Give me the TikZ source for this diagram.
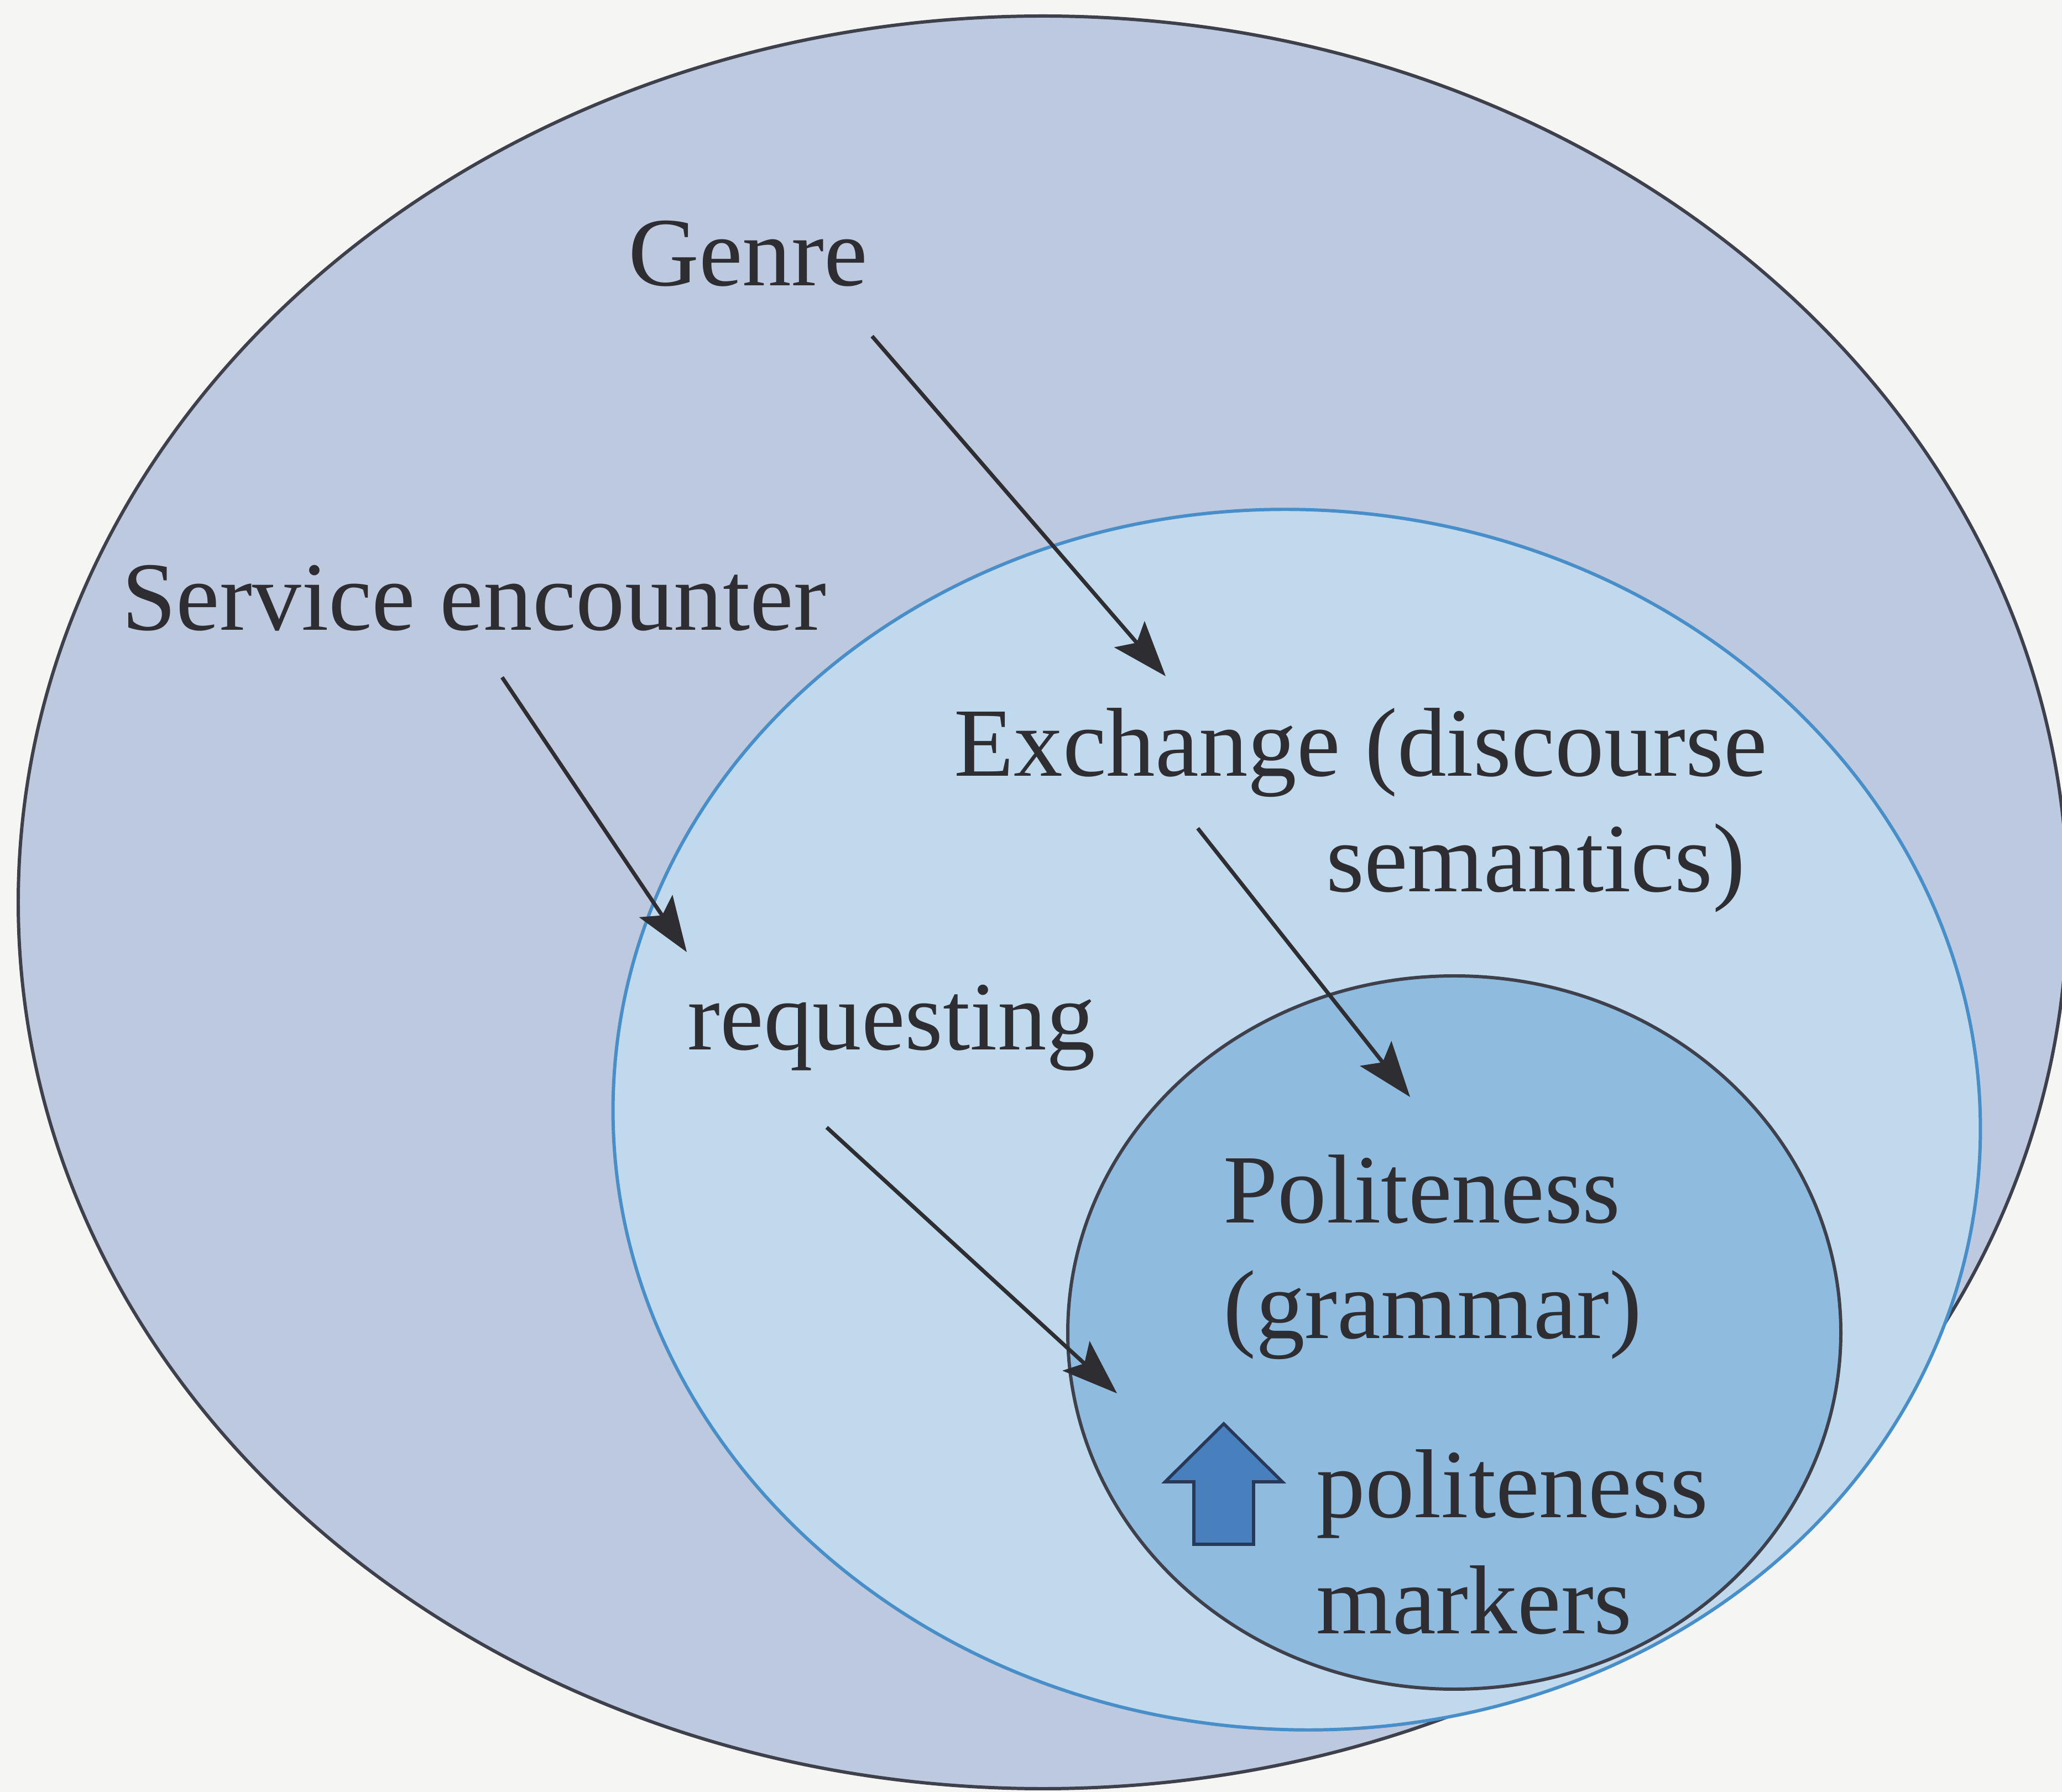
\documentclass[tikz,border=0pt]{standalone}
\usepackage{fontspec}
\setmainfont{Liberation Serif}
\usetikzlibrary{arrows.meta}
\definecolor{paper}{RGB}{245,245,243}
\definecolor{genrefill}{RGB}{188,201,222}
\definecolor{exchfill}{RGB}{193,217,236}
\definecolor{politefill}{RGB}{143,187,223}
\definecolor{ringdark}{RGB}{62,64,76}
\definecolor{ringblue}{RGB}{72,142,200}
\definecolor{markerblue}{RGB}{72,128,190}
\definecolor{markerline}{RGB}{40,56,88}
\definecolor{inkgray}{RGB}{45,45,50}

\begin{document}
\begin{tikzpicture}[
    lbl/.style={inner sep=0pt, text=inkgray, font=\fontsize{25.2}{29.8}\selectfont},
    link/.style={draw=inkgray, line width=1pt, -{Stealth[length=0.5cm,width=0.36cm,inset=0.1cm]}},
    ring/.style={line width=0.85pt},
  ]
  \clip (0,0) rectangle (18.645,-16.205); % page frame
  \fill[paper] (0,0) rectangle (18.645,-16.205);

  % the three levels, outside in
  \draw[ring, fill=genrefill, draw=ringdark] (9.43,-8.16) ellipse [x radius=9.265, y radius=8.015];
  \draw[ring, fill=exchfill, draw=ringblue] (11.725,-10.125) ellipse [x radius=6.185, y radius=5.515, rotate=-4];
  \draw[ring, fill=politefill, draw=ringdark] (13.15,-12.05) ellipse [x radius=3.495, y radius=3.225];

  % labels (two-line ones sit on the baseline of their last line)
  \node[lbl, anchor=base west] (genre) at (5.675,-2.585) {Genre};
  \node[lbl, anchor=base west] (service) at (1.095,-5.70) {Service encounter};
  \node[lbl, anchor=base west, align=left] (exchange) at (8.62,-8.065) {Exchange (discourse\\\hspace*{3.365cm}semantics)};
  \node[lbl, anchor=base west] (request) at (6.21,-9.495) {requesting};
  \node[lbl, anchor=base west, align=left] (polite) at (11.055,-12.105) {Politeness\\(grammar)};
  \node[lbl, anchor=base west, align=left] (markers) at (11.895,-14.77) {politeness\\markers};

  % arrow ends
  \coordinate (genre-out) at (7.885,-3.04);
  \coordinate (exch-in) at (10.54,-6.115);
  \coordinate (service-out) at (4.54,-6.125);
  \coordinate (request-in) at (6.21,-8.61);
  \coordinate (exch-out) at (10.83,-7.49);
  \coordinate (polite-in) at (12.75,-9.92);
  \coordinate (request-out) at (7.475,-10.195);
  \coordinate (polite-in2) at (10.1,-12.6);

  \draw[link] (genre-out) -- (exch-in);
  \draw[link] (service-out) -- (request-in);
  \draw[link] (exch-out) -- (polite-in);
  \draw[link] (request-out) -- (polite-in2);

  % block arrow beside the markers
  \coordinate (up) at (11.065,-12.875);
  \draw[fill=markerblue, draw=markerline, line width=0.8pt, line join=miter]
    (up) -- ++(0.53,-0.525) -- ++(-0.26,0) -- ++(0,-0.565) -- ++(-0.54,0)
    -- ++(0,0.565) -- ++(-0.26,0) -- cycle;
\end{tikzpicture}
\end{document}
